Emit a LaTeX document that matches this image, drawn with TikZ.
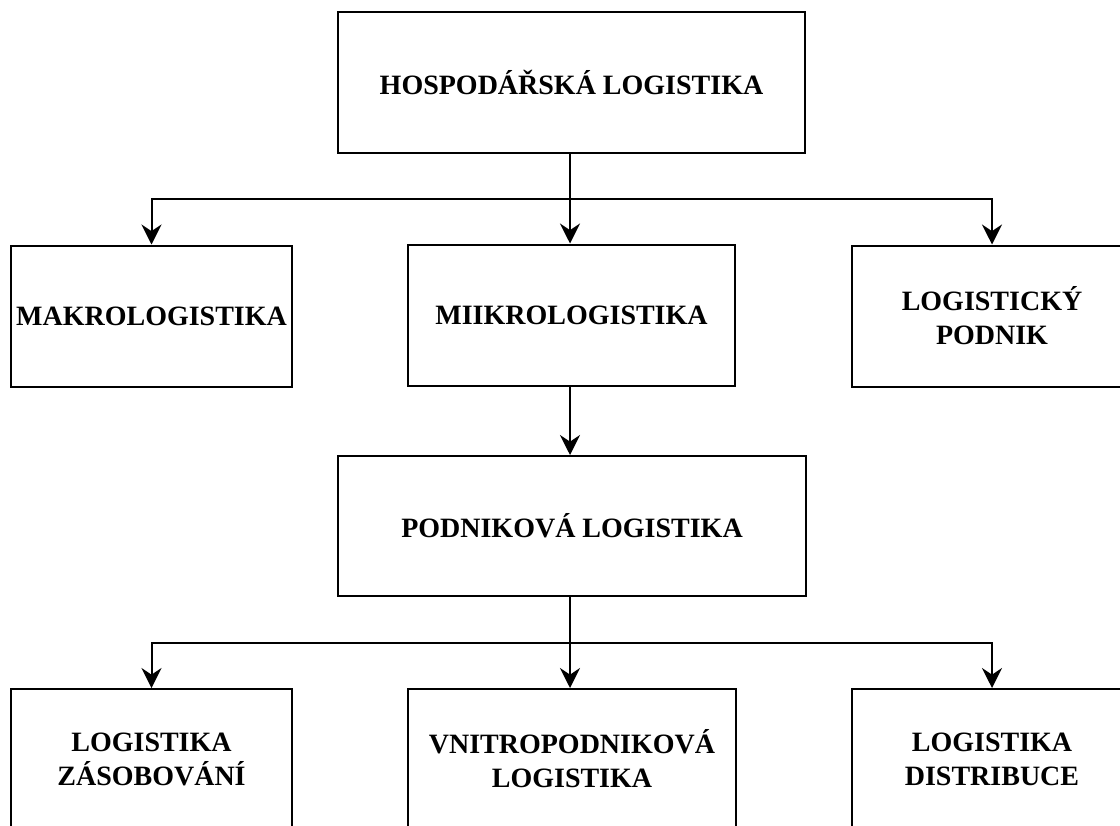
\documentclass[tikz,border=0pt]{standalone}
\usepackage{fontspec}
\setmainfont{Liberation Serif}
\usetikzlibrary{arrows.meta}

\begin{document}
\begin{tikzpicture}[x=0.75pt,y=-0.75pt,
  box/.style={draw,line width=1.5pt,rectangle,align=center,
    minimum height=141*0.75pt,inner sep=0pt,
    font=\fontsize{21}{25.5}\selectfont\bfseries},
  link/.style={line width=1.5pt,-{Stealth[length=15pt,width=15pt,inset=5pt]}}]
 \useasboundingbox (0,0) rectangle (1120,825);
 \clip (0,0) rectangle (1120,825);
 \node[box,minimum width=467*0.75pt](hosp) at (571.5,82.5){HOSPOD\'A\v{R}SK\'A LOGISTIKA};
 \node[box,minimum width=281*0.75pt](makro) at (151.5,316){MAKROLOGISTIKA};
 \node[box,minimum width=327*0.75pt](mikro) at (571.5,315){MIIKROLOGISTIKA};
 \node[box,minimum width=280*0.75pt](logpodnik) at (992,316){LOGISTICK\'Y\\PODNIK};
 \node[box,minimum width=468*0.75pt,minimum height=140*0.75pt](podnik) at (572,526){PODNIKOV\'A LOGISTIKA};
 \node[box,minimum width=281*0.75pt,minimum height=140*0.75pt](zas) at (151.5,759){LOGISTIKA\\Z\'ASOBOV\'AN\'I};
 \node[box,minimum width=328*0.75pt,minimum height=140*0.75pt](vnitro) at (572,759){VNITROPODNIKOV\'A\\LOGISTIKA};
 \node[box,minimum width=280*0.75pt,minimum height=140*0.75pt](distr) at (992,759){LOGISTIKA\\DISTRIBUCE};
 \coordinate (split1) at (570,199);
 \coordinate (split2) at (570,643);
 \draw[line width=1.5pt](hosp.south-|split1)--(split1);
 \draw[link](split1)-|(makro.north);
 \draw[link](split1)--(mikro.north-|split1);
 \draw[link](split1)-|(logpodnik.north);
 \draw[link](mikro.south-|split1)--(podnik.north-|split1);
 \draw[line width=1.5pt](podnik.south-|split2)--(split2);
 \draw[link](split2)-|(zas.north);
 \draw[link](split2)--(vnitro.north-|split2);
 \draw[link](split2)-|(distr.north);
\end{tikzpicture}
\end{document}
